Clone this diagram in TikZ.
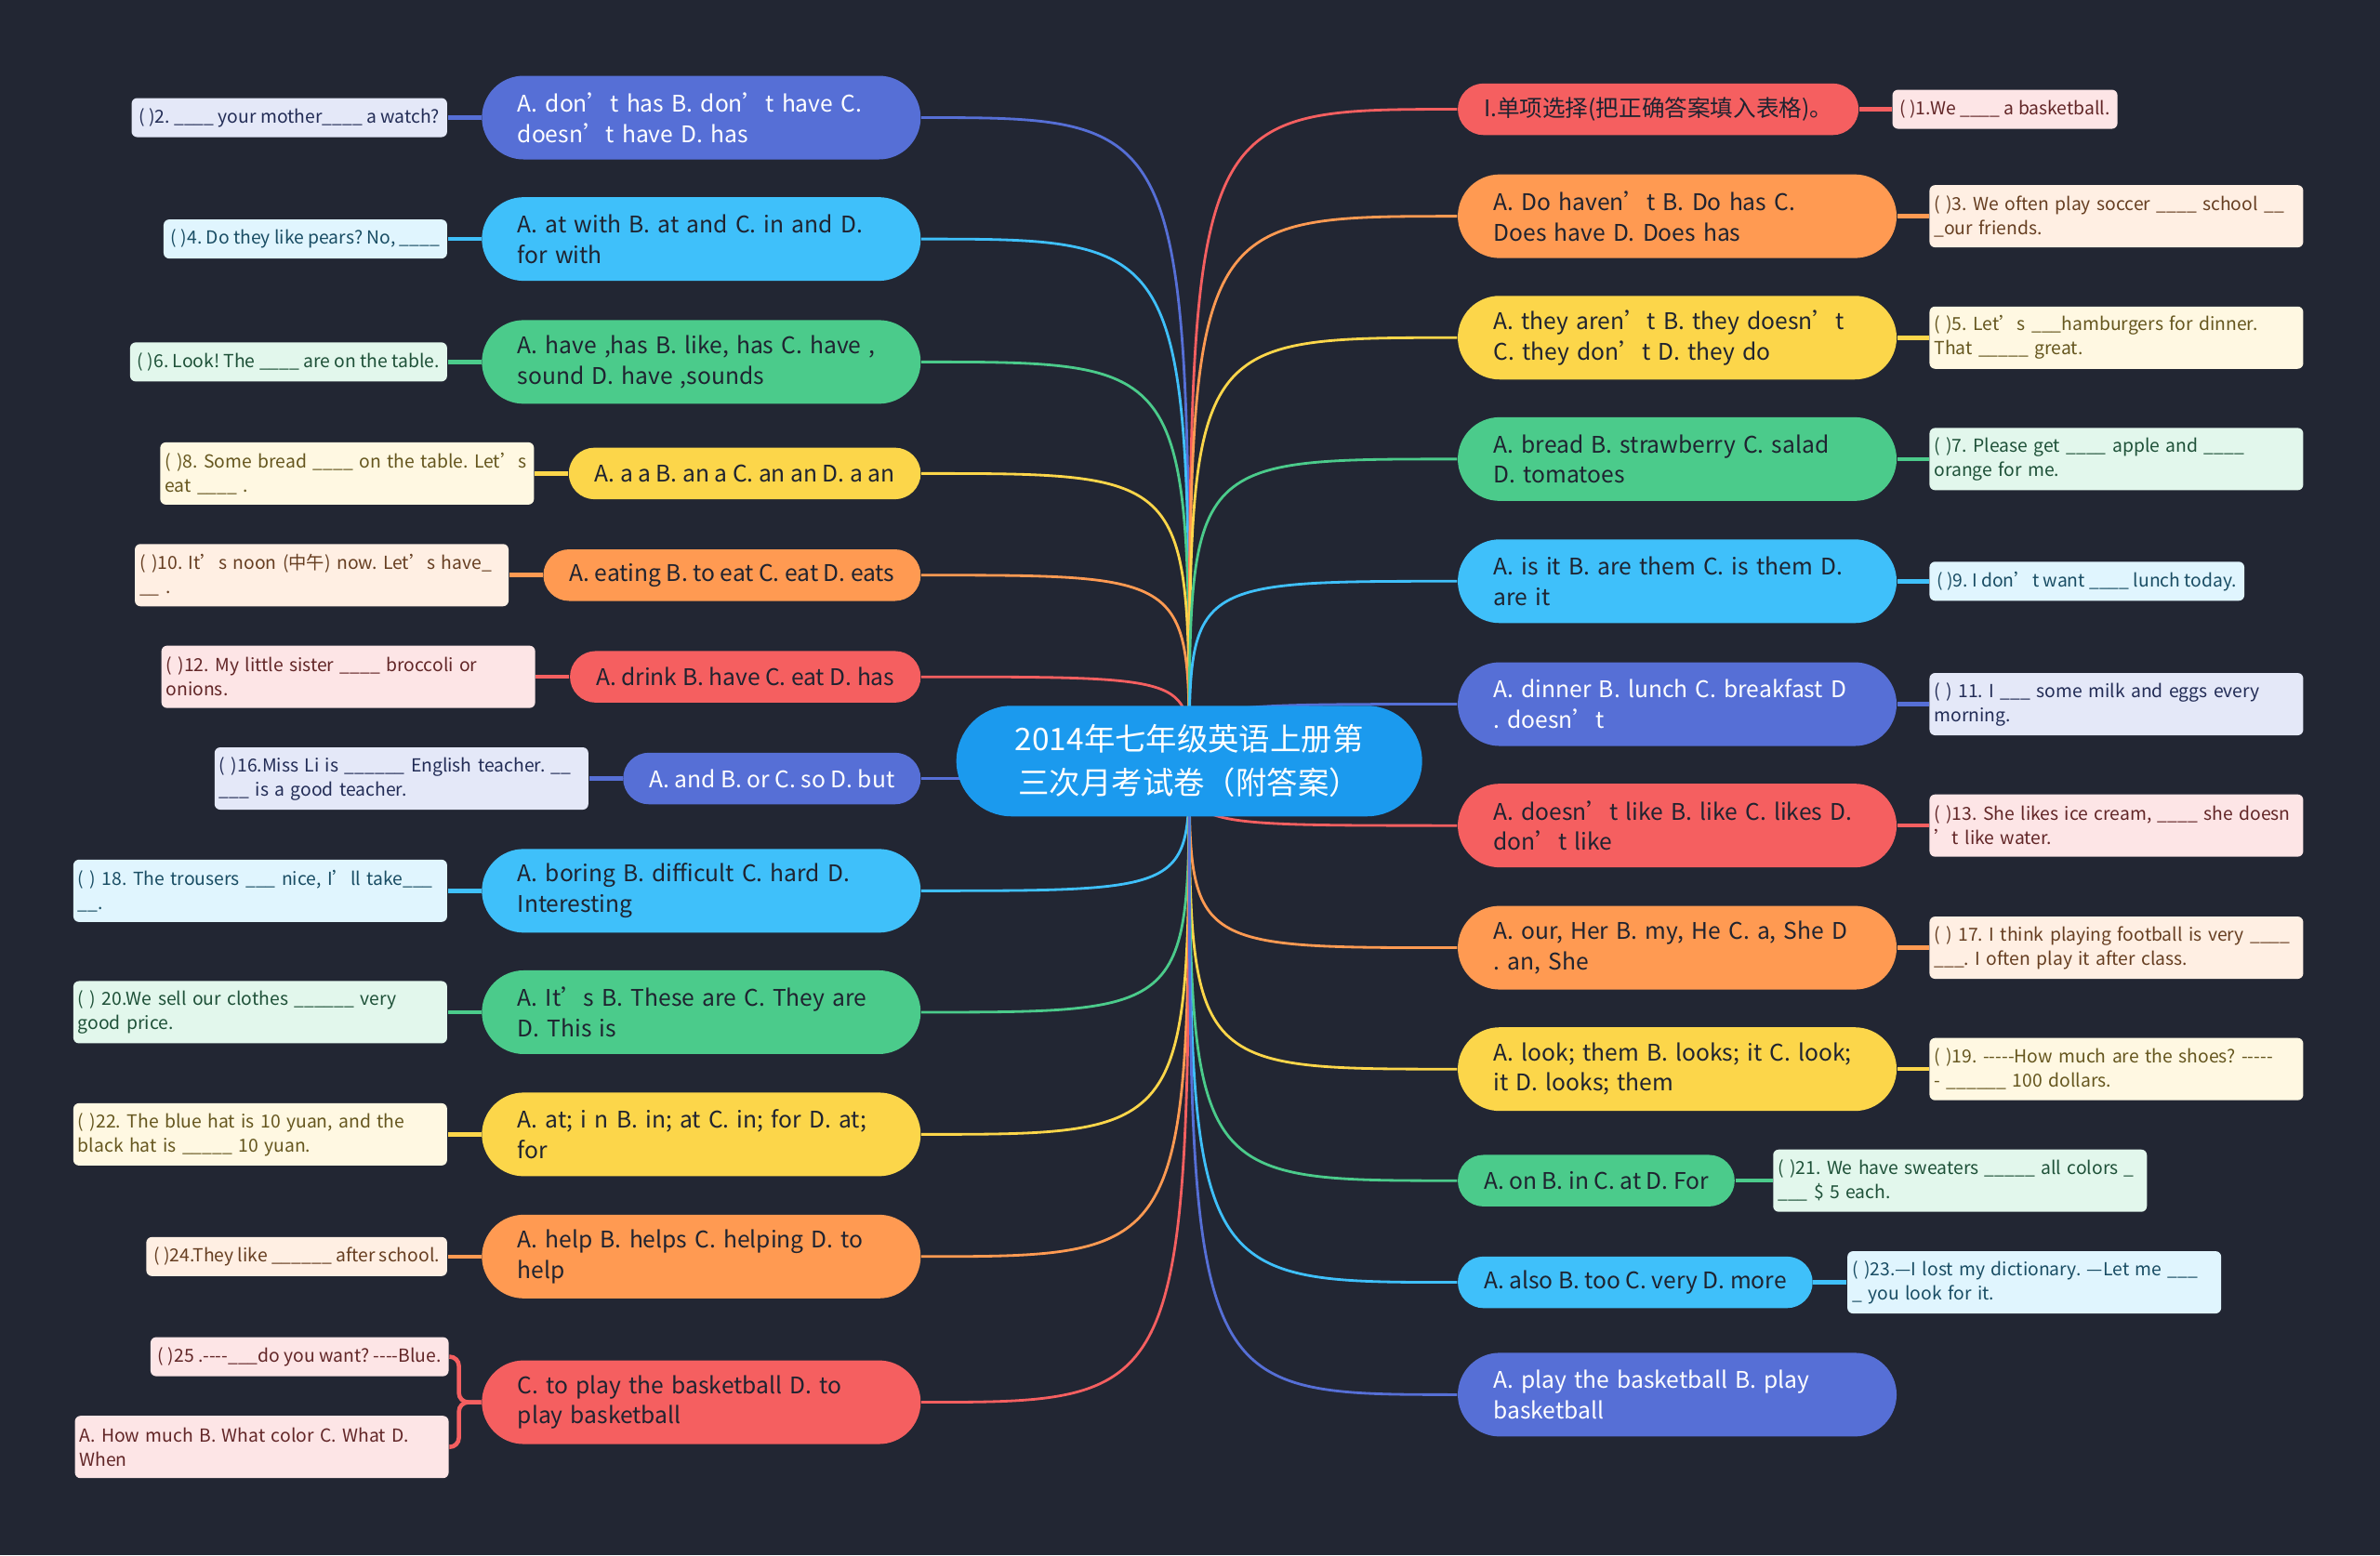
\documentclass[tikz,border=0pt]{standalone}
\usepackage{fontspec}
\setmainfont{Noto Sans CJK SC}[Ligatures=TeXOff]
\usetikzlibrary{positioning}
\definecolor{canvas}{HTML}{222633}
\definecolor{hub}{HTML}{1B9AEE}
\definecolor{ind}{HTML}{566FD6}
\definecolor{sky}{HTML}{3FC0FA}
\definecolor{mint}{HTML}{4BCB8B}
\definecolor{sun}{HTML}{FCD64A}
\definecolor{tang}{HTML}{FF9A52}
\definecolor{rose}{HTML}{F55F60}
\definecolor{ink}{HTML}{1F2330}
\pgfdeclarelayer{back}
\pgfdeclarelayer{wires}
\pgfsetlayers{back,wires,main}
\frenchspacing

\begin{document}
\begin{tikzpicture}[x=0.016327cm, y=-0.016327cm,
  hubnode/.style={fill=hub, text=white, rounded corners=0.595cm, minimum width=5.01cm, minimum height=1.19cm, align=center, font=\fontsize{9.5}{13.3}\selectfont},
  two/.style={fill=#1, text=ink, rounded corners=0.45cm, minimum height=0.9cm, text width=3.95cm, inner xsep=0.385cm, inner ysep=1pt, align=left, font=\fontsize{7}{9.3}\selectfont},
  one/.style={fill=#1, text=ink, rounded corners=0.2775cm, minimum height=0.555cm, inner xsep=0.28cm, inner ysep=1pt, font=\fontsize{7}{9.3}\selectfont},
  light/.style={text=white},
  note/.style={fill=#1!16!white, text=#1!40!black, rounded corners=0.06cm, minimum height=0.42cm, inner xsep=0.08cm, inner ysep=1pt, align=left, font=\fontsize{5.5}{7.4}\selectfont},
  note2/.style={note=#1, text width=3.92cm, inner xsep=0.05cm, minimum height=0.67cm},
  wire/.style={draw=#1, line width=0.8pt},
  link/.style={draw=#1, line width=1.3pt},
]
  \begin{pgfonlayer}{back}
    \fill[canvas] (0,0) rectangle (1568,1025);
  \end{pgfonlayer}
  \useasboundingbox (0,0) rectangle (1568,1025);

  % Centre
  \node[hubnode] (hub) at (783.5,501.5) {2014年七年级英语上册第\\三次月考试卷（附答案）};

  % Left side
  \node[two=ind, light, anchor=east] (m1) at (607,77.5) {A. don’t has B. don’t have C.\\doesn’t have D. has};
  \node[note=ind, left=0.36cm of m1] (q1) {( )2. \_\_\_\_ your mother\_\_\_\_ a watch?};

  \node[two=sky, anchor=east] (m2) at (607,157.5) {A. at with B. at and C. in and D.\\for with};
  \node[note=sky, left=0.36cm of m2] (q2) {( )4. Do they like pears? No, \_\_\_\_};

  \node[two=mint, anchor=east] (m3) at (607,238.5) {A. have ,has B. like, has C. have ,\\sound D. have ,sounds};
  \node[note=mint, left=0.36cm of m3] (q3) {( )6. Look! The \_\_\_\_ are on the table.};

  \node[one=sun, anchor=east] (m4) at (607,312) {A. a a B. an a C. an an D. a an};
  \node[note2=sun, left=0.36cm of m4] (q4) {( )8. Some bread \_\_\_\_ on the table. Let’s\\ eat \_\_\_\_ .};

  \node[one=tang, anchor=east] (m5) at (607,379) {A. eating B. to eat C. eat D. eats};
  \node[note2=tang, left=0.36cm of m5] (q5) {( )10. It’s noon (中午) now. Let’s have\_\\\_\_ .};

  \node[one=rose, anchor=east] (m6) at (607,446) {A. drink B. have C. eat D. has};
  \node[note2=rose, left=0.36cm of m6] (q6) {( )12. My little sister \_\_\_\_ broccoli or\\onions.};

  \node[one=ind, light, anchor=east] (m7) at (607,513) {A. and B. or C. so D. but};
  \node[note2=ind, left=0.36cm of m7] (q7) {( )16.Miss Li is \_\_\_\_\_\_ English teacher. \_\_\\\_\_\_ is a good teacher.};

  \node[two=sky, anchor=east] (m8) at (607,587) {A. boring B. difficult C. hard D.\\Interesting};
  \node[note2=sky, left=0.36cm of m8] (q8) {( ) 18. The trousers \_\_\_ nice, I’ll take\_\_\_\\\_\_.};

  \node[two=mint, anchor=east] (m9) at (607,667) {A. It’s B. These are C. They are\\D. This is};
  \node[note2=mint, left=0.36cm of m9] (q9) {( ) 20.We sell our clothes \_\_\_\_\_\_ very\\good price.};

  \node[two=sun, anchor=east] (m10) at (607,747.5) {A. at; i n B. in; at C. in; for D. at;\\for};
  \node[note2=sun, left=0.36cm of m10] (q10) {( )22. The blue hat is 10 yuan, and the\\black hat is \_\_\_\_\_ 10 yuan.};

  \node[two=tang, anchor=east] (m11) at (607,828) {A. help B. helps C. helping D. to\\help};
  \node[note=tang, left=0.36cm of m11] (q11) {( )24.They like \_\_\_\_\_\_ after school.};

  \node[two=rose, anchor=east] (m12) at (607,924) {C. to play the basketball D. to\\play basketball};
  \node[note=rose, anchor=east] (q12a) at (296,894) {( )25 .----\_\_\_do you want? ----Blue.};
  \node[note2=rose, anchor=east] (q12b) at (296,953.5) {A. How much B. What color C. What D.\\When};

  % Right side
  \node[one=rose, anchor=west] (n1) at (960,72) {I.单项选择(把正确答案填入表格)。};
  \node[note=rose, right=0.35cm of n1] (p1) {( )1.We \_\_\_\_ a basketball.};

  \node[two=tang, anchor=west] (n2) at (960,142.5) {A. Do haven’t B. Do has C.\\Does have D. Does has};
  \node[note2=tang, right=0.34cm of n2] (p2) {( )3. We often play soccer \_\_\_\_ school \_\_\\\_our friends.};

  \node[two=sun, anchor=west] (n3) at (960,222.5) {A. they aren’t B. they doesn’t\\C. they don’t D. they do};
  \node[note2=sun, right=0.34cm of n3] (p3) {( )5. Let’s \_\_\_hamburgers for dinner.\\That \_\_\_\_\_ great.};

  \node[two=mint, anchor=west] (n4) at (960,302.5) {A. bread B. strawberry C. salad\\D. tomatoes};
  \node[note2=mint, right=0.34cm of n4] (p4) {( )7. Please get \_\_\_\_ apple and \_\_\_\_\\orange for me.};

  \node[two=sky, anchor=west] (n5) at (960,383) {A. is it B. are them C. is them D.\\are it};
  \node[note=sky, right=0.34cm of n5] (p5) {( )9. I don’t want \_\_\_\_ lunch today.};

  \node[two=ind, light, anchor=west] (n6) at (960,464) {A. dinner B. lunch C. breakfast D\\. doesn’t};
  \node[note2=ind, right=0.34cm of n6] (p6) {( ) 11. I \_\_\_ some milk and eggs every\\morning.};

  \node[two=rose, anchor=west] (n7) at (960,544) {A. doesn’t like B. like C. likes D.\\ don’t like};
  \node[note2=rose, right=0.34cm of n7] (p7) {( )13. She likes ice cream, \_\_\_\_ she doesn\\’t like water.};

  \node[two=tang, anchor=west] (n8) at (960,624.5) {A. our, Her B. my, He C. a, She D\\. an, She};
  \node[note2=tang, right=0.34cm of n8] (p8) {( ) 17. I think playing football is very \_\_\_\_\\\_\_\_. I often play it after class.};

  \node[two=sun, anchor=west] (n9) at (960,704.5) {A. look; them B. looks; it C. look;\\ it D. looks; them};
  \node[note2=sun, right=0.34cm of n9] (p9) {( )19. -----How much are the shoes? -----\\- \_\_\_\_\_\_ 100 dollars.};

  \node[one=mint, anchor=west] (n10) at (960,778) {A. on B. in C. at D. For};
  \node[note2=mint, right=0.4cm of n10] (p10) {( )21. We have sweaters \_\_\_\_\_ all colors \_\\\_\_\_ \$ 5 each.};

  \node[one=sky, anchor=west] (n11) at (960,845) {A. also B. too C. very D. more};
  \node[note2=sky, right=0.36cm of n11] (p11) {( )23.—I lost my dictionary. —Let me \_\_\_\\\_ you look for it.};

  \node[two=ind, light, anchor=west] (n12) at (960,919) {A. play the basketball B. play\\basketball};

  % Connectors
  \begin{pgfonlayer}{wires}
    \draw[wire=ind]  (hub.center) .. controls (hub.center |- m1.east) .. (m1.east);
    \draw[wire=sky]  (hub.center) .. controls (hub.center |- m2.east) .. (m2.east);
    \draw[wire=mint] (hub.center) .. controls (hub.center |- m3.east) .. (m3.east);
    \draw[wire=sun]  (hub.center) .. controls (hub.center |- m4.east) .. (m4.east);
    \draw[wire=tang] (hub.center) .. controls (hub.center |- m5.east) .. (m5.east);
    \draw[wire=rose] (hub.center) .. controls (hub.center |- m6.east) .. (m6.east);
    \draw[wire=ind]  (hub.center) .. controls (hub.center |- m7.east) .. (m7.east);
    \draw[wire=sky]  (hub.center) .. controls (hub.center |- m8.east) .. (m8.east);
    \draw[wire=mint] (hub.center) .. controls (hub.center |- m9.east) .. (m9.east);
    \draw[wire=sun]  (hub.center) .. controls (hub.center |- m10.east) .. (m10.east);
    \draw[wire=tang] (hub.center) .. controls (hub.center |- m11.east) .. (m11.east);
    \draw[wire=rose] (hub.center) .. controls (hub.center |- m12.east) .. (m12.east);
    \draw[wire=rose] (hub.center) .. controls (hub.center |- n1.west) .. (n1.west);
    \draw[wire=tang] (hub.center) .. controls (hub.center |- n2.west) .. (n2.west);
    \draw[wire=sun]  (hub.center) .. controls (hub.center |- n3.west) .. (n3.west);
    \draw[wire=mint] (hub.center) .. controls (hub.center |- n4.west) .. (n4.west);
    \draw[wire=sky]  (hub.center) .. controls (hub.center |- n5.west) .. (n5.west);
    \draw[wire=ind]  (hub.center) .. controls (hub.center |- n6.west) .. (n6.west);
    \draw[wire=rose] (hub.center) .. controls (hub.center |- n7.west) .. (n7.west);
    \draw[wire=tang] (hub.center) .. controls (hub.center |- n8.west) .. (n8.west);
    \draw[wire=sun]  (hub.center) .. controls (hub.center |- n9.west) .. (n9.west);
    \draw[wire=mint] (hub.center) .. controls (hub.center |- n10.west) .. (n10.west);
    \draw[wire=sky]  (hub.center) .. controls (hub.center |- n11.west) .. (n11.west);
    \draw[wire=ind]  (hub.center) .. controls (hub.center |- n12.west) .. (n12.west);

    % question links
    \draw[link=ind]  (m1.west) -- (q1.east);
    \draw[link=sky]  (m2.west) -- (q2.east);
    \draw[link=mint] (m3.west) -- (q3.east);
    \draw[link=sun]  (m4.west) -- (q4.east);
    \draw[link=tang] (m5.west) -- (q5.east);
    \draw[link=rose] (m6.west) -- (q6.east);
    \draw[link=ind]  (m7.west) -- (q7.east);
    \draw[link=sky]  (m8.west) -- (q8.east);
    \draw[link=mint] (m9.west) -- (q9.east);
    \draw[link=sun]  (m10.west) -- (q10.east);
    \draw[link=tang] (m11.west) -- (q11.east);
    \coordinate (f12) at ([xshift=-0.24cm]m12.west);
    \draw[link=rose, rounded corners=0.1cm] (m12.west) -- (f12) |- (q12a.east);
    \draw[link=rose, rounded corners=0.1cm] (m12.west) -- (f12) |- (q12b.east);
    \draw[link=rose] (n1.east) -- (p1.west);
    \draw[link=tang] (n2.east) -- (p2.west);
    \draw[link=sun]  (n3.east) -- (p3.west);
    \draw[link=mint] (n4.east) -- (p4.west);
    \draw[link=sky]  (n5.east) -- (p5.west);
    \draw[link=ind]  (n6.east) -- (p6.west);
    \draw[link=rose] (n7.east) -- (p7.west);
    \draw[link=tang] (n8.east) -- (p8.west);
    \draw[link=sun]  (n9.east) -- (p9.west);
    \draw[link=mint] (n10.east) -- (p10.west);
    \draw[link=sky]  (n11.east) -- (p11.west);
  \end{pgfonlayer}
\end{tikzpicture}
\end{document}
